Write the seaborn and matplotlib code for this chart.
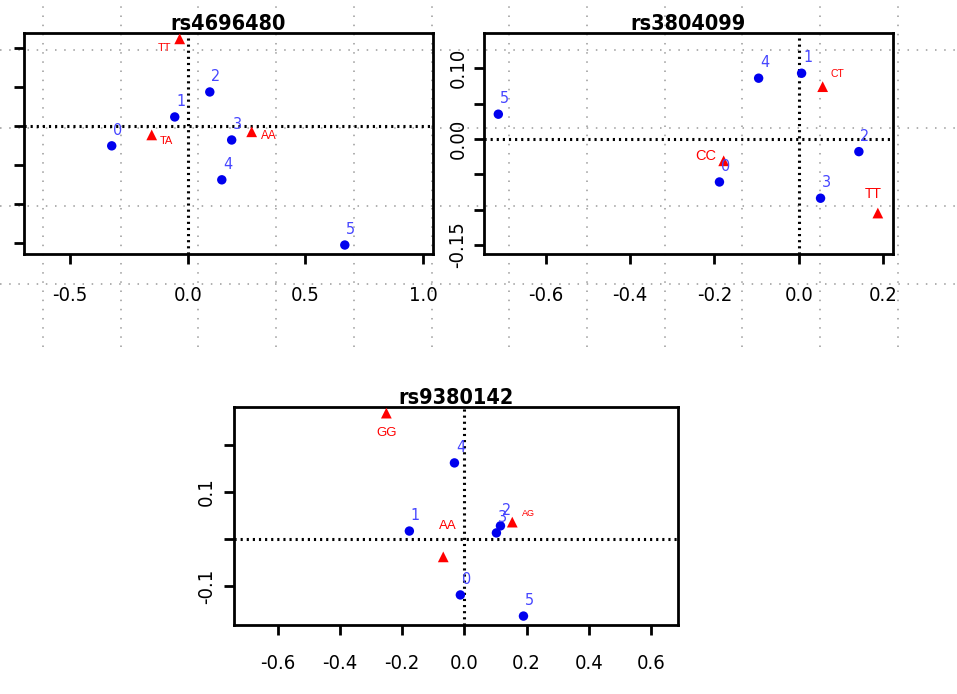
import numpy as np
import pandas as pd
import matplotlib
matplotlib.use('Agg')
import matplotlib.pyplot as plt
import seaborn as sns

# cluster labels shared by all three panels
clusters = ['0', '1', '2', '3', '4', '5']

# rs4696480
snp1_name = 'rs4696480'
snp1_cx = [-0.323, -0.055, 0.094, 0.187, 0.145, 0.668]
snp1_cy = [-0.051, 0.023, 0.087, -0.036, -0.138, -0.305]
snp1_geno = ['TT', 'TA', 'AA']
snp1_gx = [-0.034, -0.153, 0.272]
snp1_gy = [0.223, -0.023, -0.015]
snp1_xticks = [-0.5, 0.0, 0.5, 1.0]
snp1_xlabels = ['-0.5', '0.0', '0.5', '1.0']
snp1_yticks = [0.2, 0.1, 0.0, -0.1, -0.2, -0.3]
snp1_ylabels = ['', '', '', '', '', '']

# rs3804099
snp2_name = 'rs3804099'
snp2_cx = [-0.188, 0.007, 0.143, 0.052, -0.095, -0.713]
snp2_cy = [-0.061, 0.093, -0.018, -0.084, 0.086, 0.035]
snp2_geno = ['CT', 'CC', 'TT']
snp2_gx = [0.057, -0.178, 0.188]
snp2_gy = [0.074, -0.031, -0.105]
snp2_xticks = [-0.6, -0.4, -0.2, 0.0, 0.2]
snp2_xlabels = ['-0.6', '-0.4', '-0.2', '0.0', '0.2']
snp2_yticks = [0.10, 0.05, 0.00, -0.05, -0.10, -0.15]
snp2_ylabels = ['0.10', '', '0.00', '', '', '-0.15']

# rs9380142
snp3_name = 'rs9380142'
snp3_cx = [-0.013, -0.177, 0.116, 0.103, -0.032, 0.190]
snp3_cy = [-0.119, 0.017, 0.028, 0.013, 0.162, -0.164]
snp3_geno = ['GG', 'AG', 'AA']
snp3_gx = [-0.251, 0.154, -0.068]
snp3_gy = [0.268, 0.036, -0.038]
snp3_xticks = [-0.6, -0.4, -0.2, 0.0, 0.2, 0.4, 0.6]
snp3_xlabels = ['-0.6', '-0.4', '-0.2', '0.0', '0.2', '0.4', '0.6']
snp3_yticks = [0.2, 0.1, 0.0, -0.1]
snp3_ylabels = ['', '0.1', '', '-0.1']

sns.set_style('white')
plt.rcParams['font.family'] = ['DejaVu Sans']
plt.rcParams['font.stretch'] = 'condensed'
plt.rcParams['text.color'] = 'black'

W, H = 957, 694
fig = plt.figure(figsize=(W / 100, H / 100), dpi=100)
fig.patch.set_facecolor('white')

# dotted sheet grid behind the two upper plots
bg = fig.add_axes([0, 1 - 347 / H, 1, 347 / H], zorder=0)
bg.set_xlim(0, W)
bg.set_ylim(347, 0)
bg.set_xticks(np.arange(43, W, 77.7))
bg.set_yticks([50, 128, 206, 284])
bg.grid(True, color='#9a9a9a', linestyle=(0, (1, 5)), linewidth=1.1)
bg.tick_params(length=0, labelbottom=False, labelleft=False)
for s in bg.spines.values():
    s.set_visible(False)
bg.set_facecolor('none')


def px_box(left, top, right, bottom):
    return [left / W, 1 - bottom / H, (right - left) / W, (bottom - top) / H]


def draw_panel(box, name, cx, cy, geno, gx, gy, xlim, ylim,
               xticks, xlabels, yticks, ylabels, geno_style, xpad, ypad):
    ax = fig.add_axes(px_box(*box), zorder=2)
    ax.set_facecolor('none')

    pts = pd.DataFrame({'x': cx, 'y': cy, 'label': clusters})
    gen = pd.DataFrame({'x': gx, 'y': gy, 'label': geno})

    ax.axhline(0, color='black', linestyle=(0, (0.7, 1.3)), linewidth=2.2, zorder=1)
    ax.axvline(0, color='black', linestyle=(0, (0.7, 1.3)), linewidth=2.2, zorder=1)

    sns.scatterplot(data=pts, x='x', y='y', ax=ax, color='#0000ee', marker='o',
                    s=46, edgecolor='none', zorder=3, clip_on=False)
    sns.scatterplot(data=gen, x='x', y='y', ax=ax, color='#ff0000', marker='^',
                    s=60, edgecolor='none', zorder=3, clip_on=False)

    for _, r in pts.iterrows():
        ax.annotate(r['label'], (r['x'], r['y']), xytext=(6, 8),
                    textcoords='offset pixels', color='#4646ff', fontsize=11.5,
                    ha='center', va='bottom', zorder=4)
    for _, r in gen.iterrows():
        dx, dy, ha, fs = geno_style[r['label']]
        ax.annotate(r['label'], (r['x'], r['y']), xytext=(dx, dy),
                    textcoords='offset pixels', color='#ff0000', fontsize=fs,
                    ha=ha, va='center', zorder=4, fontstretch='normal',
                    family=['Liberation Sans', 'DejaVu Sans'])

    ax.set_xlim(*xlim)
    ax.set_ylim(*ylim)
    ax.set_xticks(xticks)
    ax.set_xticklabels(xlabels)
    ax.set_yticks(yticks)
    ax.set_yticklabels(ylabels)
    plt.setp(ax.get_yticklabels(), rotation=90, va='center')
    ax.tick_params(axis='both', direction='out', length=7, width=2.0,
                   labelsize=14.5, colors='black', left=True, bottom=True)
    ax.tick_params(axis='x', pad=xpad)
    ax.tick_params(axis='y', pad=ypad)
    ax.set_xlabel('')
    ax.set_ylabel('')
    for s in ax.spines.values():
        s.set_visible(True)
        s.set_linewidth(2.0)
        s.set_color('black')
    ax.set_title(name, fontsize=15.5, fontweight='bold', color='black', pad=2)
    return ax


draw_panel((24, 33, 433, 254), snp1_name, snp1_cx, snp1_cy,
           snp1_geno, snp1_gx, snp1_gy, (-0.696, 1.043), (-0.328, 0.238),
           snp1_xticks, snp1_xlabels, snp1_yticks, snp1_ylabels,
           {'TT': (-8, -9, 'right', 8), 'TA': (8, -6, 'left', 8),
            'AA': (9, -4, 'left', 8.5)}, 16, 4)

draw_panel((484, 33, 893, 254), snp2_name, snp2_cx, snp2_cy,
           snp2_geno, snp2_gx, snp2_gy, (-0.747, 0.224), (-0.163, 0.150),
           snp2_xticks, snp2_xlabels, snp2_yticks, snp2_ylabels,
           {'CT': (8, 13, 'left', 7.5), 'CC': (-7, 5, 'right', 10.5),
            'TT': (-5, 19, 'center', 10)}, 16, 5)

draw_panel((234, 407, 678, 625), snp3_name, snp3_cx, snp3_cy,
           snp3_geno, snp3_gx, snp3_gy, (-0.741, 0.687), (-0.183, 0.281),
           snp3_xticks, snp3_xlabels, snp3_yticks, snp3_ylabels,
           {'GG': (0, -20, 'center', 9.5), 'AG': (10, 9, 'left', 6.5),
            'AA': (5, 31, 'center', 9.5)}, 14, 6)

fig.savefig('out.png', dpi=100, facecolor='white')
